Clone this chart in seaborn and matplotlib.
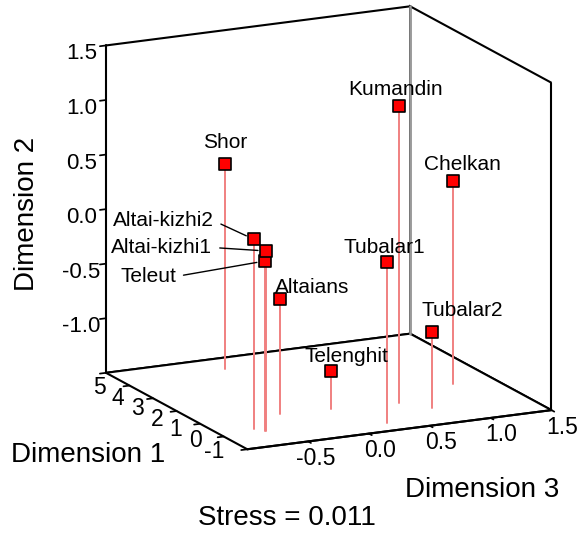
import numpy as np
import pandas as pd
import seaborn as sns
import matplotlib
matplotlib.use("Agg")
import matplotlib.pyplot as plt
from mpl_toolkits.mplot3d import proj3d

sns.set_theme(style="white")
plt.rcParams['font.family'] = ['Liberation Sans', 'DejaVu Sans']
plt.rcParams['text.color'] = 'black'

# ---- data ----
populations = ["Shor", "Altai-kizhi2", "Altai-kizhi1", "Teleut", "Altaians",
               "Telenghit", "Tubalar1", "Kumandin", "Tubalar2", "Chelkan"]
dim1 = [4.28, 0.22, 0.00, 0.00, 0.98, 0.86, -0.46, 0.70, 0.11, 1.49]
dim2 = [0.38, 0.24, 0.15, 0.06, -0.45, -1.15, -0.03, 1.22, -0.80, 0.36]
dim3 = [-0.16, -0.71, -0.65, -0.66, -0.35, 0.05, 0.25, 0.58, 0.73, 1.17]

dim1_ticks = [-1, 0, 1, 2, 3, 4, 5]
dim2_ticks = [-1.0, -0.5, 0.0, 0.5, 1.0, 1.5]
dim3_ticks = [-0.5, 0.0, 0.5, 1.0, 1.5]
dim1_lim = (-1, 5)
dim2_lim = (-1.5, 1.5)
dim3_lim = (-1, 1.5)
stress_text = "Stress = 0.011"

# label offsets in pixels (dx right, dy up) and alignment
label_offsets = {
    "Shor": (0, 16, "center"),
    "Kumandin": (-4, 11, "center"),
    "Chelkan": (10, 11, "center"),
    "Tubalar1": (-2, 9, "center"),
    "Tubalar2": (31, 16, "center"),
    "Altaians": (32, 6, "center"),
    "Telenghit": (15, 9, "center"),
    "Altai-kizhi2": (-40, 13, "right"),
    "Altai-kizhi1": (-54, -2, "right"),
    "Teleut": (-89, -21, "right"),
}
leader = {"Altai-kizhi2", "Altai-kizhi1", "Teleut"}

df = pd.DataFrame({"pop": populations, "d1": dim1, "d2": dim2, "d3": dim3})

fig = plt.figure(figsize=(5.87, 5.34), dpi=100)
ax = fig.add_axes([28 / 587, 32 / 534, 1.0, 1.0], projection='3d')
ax.set_proj_type('ortho')
ax.view_init(elev=15.3, azim=-116)
ax.set_box_aspect((337, 321, 338), zoom=1.05)
ax.computed_zorder = False

ax.set_xlim(*dim3_lim)
ax.set_ylim(*dim1_lim)
ax.set_zlim(*dim2_lim)
ax.set_xticks(dim3_ticks)
ax.set_yticks(dim1_ticks)
ax.set_zticks(dim2_ticks)
ax.set_xticklabels([])
ax.set_yticklabels([])
ax.set_zticklabels([f"{v:.1f}" for v in dim2_ticks])
ax.grid(False)

for axis in (ax.xaxis, ax.yaxis, ax.zaxis):
    axis.set_pane_color((1, 1, 1, 1))
    axis.pane.set_edgecolor('black')
    axis.pane.set_linewidth(1.5)
    axis.line.set_color('black')
    axis.line.set_linewidth(1.5)
    axis._axinfo['tick']['color'] = 'black'
    axis._axinfo['tick']['inward_factor'] = 0.25
    axis._axinfo['tick']['outward_factor'] = 0.0
ax.tick_params(labelsize=16, colors='black', labelcolor='black')
ax.zaxis.set_tick_params(pad=3)

# box edges (right edge black, back edge grey)
ax.plot([dim3_lim[1]] * 2, [dim1_lim[0]] * 2, list(dim2_lim), color='black', lw=1.5, zorder=0.5)
ax.plot([dim3_lim[1]] * 2, [dim1_lim[1]] * 2, list(dim2_lim), color='#9a9a9a', lw=1.8, zorder=0.5)

zmin = dim2_lim[0]
for _, r in df.iterrows():
    ax.plot([r.d3, r.d3], [r.d1, r.d1], [zmin, r.d2], color='#f08080', lw=1.4, zorder=1)
ax.scatter(df.d3, df.d1, df.d2, marker='s', s=72, c='#ff0000', edgecolors='black',
           linewidths=1.2, depthshade=False, zorder=5)

fig.canvas.draw()
M = ax.get_proj()
px = 0.72

# tick labels of the floor axes
for v in dim3_ticks:
    x2, y2, _ = proj3d.proj_transform(v, dim1_lim[0], zmin, M)
    ax.annotate(f"{v:.1f}", xy=(x2, y2), xycoords='data', xytext=(27 * px, -17 * px),
                textcoords='offset points', ha='right', va='center', fontsize=16.5,
                color='black')
for v in dim1_ticks:
    x2, y2, _ = proj3d.proj_transform(dim3_lim[0], v, zmin, M)
    k = dim1_lim[1] - v
    ax.annotate(str(v), xy=(x2, y2), xycoords='data',
                xytext=((-7 - 4.3 * k) * px, -(15 - 2.2 * k) * px),
                textcoords='offset points', ha='center', va='center', fontsize=16.5,
                color='black')

for _, r in df.iterrows():
    x2, y2, _ = proj3d.proj_transform(r.d3, r.d1, r.d2, M)
    dx, dy, ha = label_offsets[r["pop"]]
    if r["pop"] in leader:
        ax.annotate(r["pop"], xy=(x2, y2), xycoords='data',
                    xytext=(dx * px, dy * px), textcoords='offset points',
                    ha=ha, va='baseline', fontsize=15, color='black',
                    arrowprops=dict(arrowstyle='-', color='black', lw=1.0,
                                    relpos=(1, 0.5), shrinkA=3, shrinkB=6))
    else:
        ax.annotate(r["pop"], xy=(x2, y2), xycoords='data',
                    xytext=(dx * px, dy * px), textcoords='offset points',
                    ha=ha, va='baseline', fontsize=15, color='black')

fig.text(27 / 587, 1 - 214 / 534, "Dimension 2", rotation=90, ha='center', va='center',
         fontsize=20, color='black')
fig.text(88 / 587, 1 - 455 / 534, "Dimension 1", ha='center', va='center', fontsize=20,
         color='black')
fig.text(482 / 587, 1 - 490 / 534, "Dimension 3", ha='center', va='center', fontsize=20,
         color='black')
fig.text(287 / 587, 1 - 518 / 534, stress_text, ha='center', va='center', fontsize=20,
         color='black')

fig.savefig("out.png", dpi=100)
